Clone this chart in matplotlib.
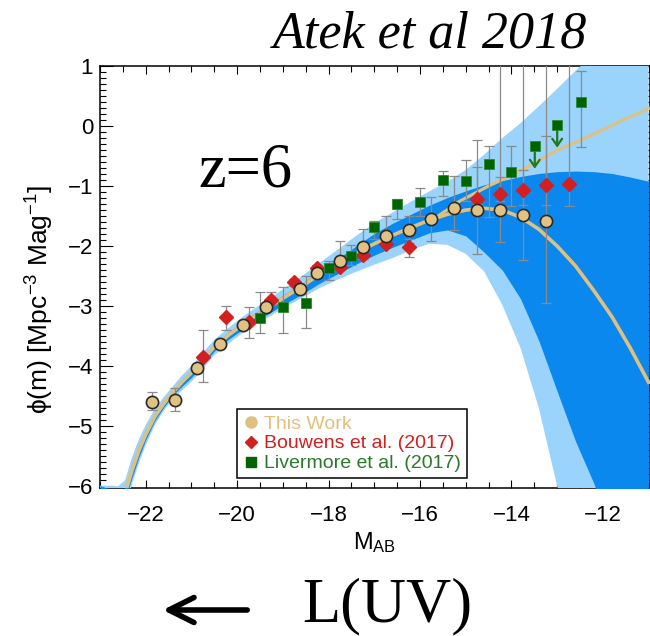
import matplotlib
matplotlib.use('Agg')
import matplotlib.pyplot as plt
from matplotlib.lines import Line2D
from matplotlib.patches import FancyArrowPatch
from matplotlib.ticker import MultipleLocator
import numpy as np

plt.rcParams['font.family'] = ['Liberation Sans', 'DejaVu Sans']
plt.rcParams['mathtext.fontset'] = 'custom'
plt.rcParams['mathtext.rm'] = 'Liberation Sans'
plt.rcParams['mathtext.it'] = 'Liberation Sans:italic'

# best-fit z=6 UV LF (with faint-end turnover) and its 68% / 95% bands
m_fit = [-23.0, -22.6, -22.45, -22.3, -22.15, -22.0, -21.8, -21.6, -21.4, -21.2,
         -21.0, -20.8, -20.5, -20.2, -19.9, -19.6, -19.3, -19.0, -18.6, -18.2,
         -17.8, -17.4, -17.0, -16.6, -16.2, -15.8, -15.4, -15.0, -14.6, -14.2,
         -13.8, -13.4, -13.0, -12.6, -12.2, -11.8, -11.4, -11.0]
phi_fit = [-7.8, -6.5, -6.12, -5.74, -5.41, -5.14, -4.84, -4.62, -4.43, -4.26,
           -4.11, -3.94, -3.68, -3.49, -3.32, -3.16, -3.02, -2.87, -2.68, -2.47,
           -2.29, -2.12, -1.96, -1.82, -1.69, -1.57, -1.47, -1.40, -1.37, -1.40,
           -1.52, -1.72, -2.00, -2.33, -2.74, -3.18, -3.70, -4.27]
dark_lo = [-8.0, -6.8, -6.24, -5.86, -5.52, -5.23, -4.91, -4.68, -4.48, -4.33,
           -4.19, -4.02, -3.75, -3.56, -3.40, -3.25, -3.12, -2.98, -2.81, -2.62,
           -2.46, -2.30, -2.15, -2.02, -1.90, -1.78, -1.73, -1.83, -2.10, -2.40,
           -2.88, -3.58, -4.42, -5.25, -5.95, -6.8, -7.5, -8.0]
dark_hi = [-5.99, -6.1, -6.02, -5.63, -5.31, -5.06, -4.78, -4.57, -4.39, -4.21,
           -4.06, -3.89, -3.63, -3.44, -3.27, -3.11, -2.97, -2.82, -2.63, -2.41,
           -2.21, -2.00, -1.79, -1.62, -1.47, -1.32, -1.19, -1.08, -0.98, -0.91,
           -0.84, -0.79, -0.76, -0.75, -0.76, -0.79, -0.85, -0.92]
light_lo = [-8.0, -7.0, -6.36, -5.97, -5.62, -5.32, -4.98, -4.74, -4.54, -4.40,
            -4.26, -4.09, -3.82, -3.63, -3.46, -3.31, -3.18, -3.04, -2.87, -2.70,
            -2.56, -2.43, -2.31, -2.20, -2.07, -1.96, -1.98, -2.13, -2.42, -2.98,
            -3.70, -4.70, -6.0, -7.5, -9.0, -9.0, -9.0, -9.0]
light_hi = [-5.99, -6.0, -5.90, -5.52, -5.22, -4.98, -4.71, -4.51, -4.33, -4.15,
            -4.00, -3.82, -3.56, -3.37, -3.19, -3.03, -2.88, -2.72, -2.51, -2.28,
            -2.06, -1.83, -1.62, -1.44, -1.26, -1.09, -0.93, -0.73, -0.48, -0.20,
            0.05, 0.33, 0.62, 0.92, 1.2, 1.5, 1.8, 2.1]

# Schechter branch without the turnover
m_sch = [-15.7, -15.13, -14.5, -14.0, -13.5, -13.0, -12.5, -12.0, -11.5, -11.0]
phi_sch = [-1.55, -1.25, -1.0, -0.82, -0.62, -0.40, -0.24, -0.06, 0.12, 0.29]

# This Work
m_atek = [-21.86, -21.36, -20.87, -20.37, -19.87, -19.36, -18.62, -18.25, -17.75,
          -17.24, -16.75, -16.25, -15.75, -15.25, -14.76, -14.24, -13.74, -13.25]
phi_atek = [-4.59, -4.57, -4.03, -3.63, -3.31, -3.02, -2.72, -2.44, -2.25,
            -2.01, -1.84, -1.73, -1.55, -1.37, -1.40, -1.40, -1.48, -1.58]
atek_lo = [-4.73, -4.75, -4.10, -3.68, -3.37, -3.08, -2.80, -2.50, -2.40,
           -2.21, -1.99, -1.95, -1.91, -1.74, -2.13, -1.94, -2.23, -2.95]
atek_hi = [-4.43, -4.37, -3.96, -3.58, -3.25, -2.96, -2.64, -2.38, -1.92,
           -1.72, -1.50, -1.50, -1.19, -0.84, -0.23, 1.5, 1.5, 1.5]

# Bouwens et al. (2017)
m_bou = [-20.75, -20.25, -19.74, -19.25, -18.75, -18.26, -17.75, -17.24, -16.75,
         -16.25, -14.76, -14.24, -13.74, -13.25, -12.74]
phi_bou = [-3.84, -3.18, -3.27, -2.89, -2.60, -2.37, -2.34, -2.15, -1.96,
           -2.02, -1.22, -1.14, -1.06, -0.99, -0.96]
bou_lo = [-4.27, -3.39, -3.53, -2.98, -2.66, -2.43, -2.40, -2.21, -2.02,
          -2.18, -1.30, -1.25, -1.32, -1.32, -1.33]
bou_hi = [-3.39, -2.99, -3.02, -2.77, -2.54, -2.31, -2.28, -2.09, -1.90,
          -1.88, -0.68, -0.85, -0.73, -0.17, 1.5]

# Livermore et al. (2017)
m_liv = [-19.51, -18.99, -18.50, -17.99, -17.50, -17.00, -16.50, -16.00,
         -15.49, -14.99, -14.49, -14.00, -12.49]
phi_liv = [-3.19, -3.01, -2.95, -2.36, -2.17, -1.68, -1.30, -1.27,
           -0.90, -0.92, -0.63, -0.76, 0.40]
liv_lo = [-3.45, -3.45, -3.37, -2.57, -2.32, -1.88, -1.55, -1.50,
          -1.17, -1.25, -1.52, -1.33, -0.35]
liv_hi = [-2.76, -2.68, -2.49, -2.24, -1.99, -1.58, -1.21, -1.03,
          -0.75, -0.56, -0.33, -0.33, 0.92]
m_liv_ul = [-13.49, -13.00]
phi_liv_ul = [-0.33, 0.02]

tan = '#e0c07e'
red = '#d21f1f'
green = '#006400'
gray = '#8a8a8a'

fig = plt.figure(figsize=(6.5, 6.36), dpi=100)
ax = fig.add_axes([0.1538, 0.2327, 0.8462, 0.6635])

ax.fill_between(m_fit, light_lo, light_hi, color='#9ad3fb', lw=0, zorder=2.6)
ax.fill_between(m_fit, dark_lo, dark_hi, color='#0a88ee', lw=0, zorder=2.7)
ax.plot(m_sch, phi_sch, color=tan, lw=2.2, zorder=3)
ax.plot(m_fit, phi_fit, color=tan, lw=2.6, zorder=3)


def err(phi, lo, hi):
    phi = np.array(phi)
    return [phi - np.array(lo), np.array(hi) - phi]


ebar = dict(fmt='none', ecolor=gray, elinewidth=0.9, capsize=3.5, capthick=0.9, zorder=4)
ax.errorbar(m_bou, phi_bou, yerr=err(phi_bou, bou_lo, bou_hi), **ebar)
ax.errorbar(m_liv, phi_liv, yerr=err(phi_liv, liv_lo, liv_hi), **ebar)
ax.errorbar(m_atek, phi_atek, yerr=err(phi_atek, atek_lo, atek_hi), **ebar)

# upper limits
for m, p in zip(m_liv_ul, phi_liv_ul):
    ax.annotate('', xy=(m, p - 0.38), xytext=(m, p),
                arrowprops=dict(arrowstyle='->,head_length=0.5,head_width=0.35',
                                color='#1f7a1f', lw=1.6, shrinkA=0, shrinkB=0),
                zorder=5)

ax.plot(m_bou, phi_bou, 'D', ms=6.8, color=red, mec=red, zorder=5)
ax.plot(m_liv + m_liv_ul, phi_liv + phi_liv_ul, 's', ms=7.2, color=green,
        mec='#2d8a2d', mew=0.6, zorder=5)
ax.plot(m_atek, phi_atek, 'o', ms=8.8, mfc='#e2c283', mec='#2a2a2a', mew=1.2, zorder=6)

ax.set_xlim(-23.0, -10.97)
ax.set_ylim(-6.03, 1.0)
ax.xaxis.set_major_locator(MultipleLocator(2))
ax.xaxis.set_minor_locator(MultipleLocator(0.5))
ax.yaxis.set_major_locator(MultipleLocator(1))
ax.yaxis.set_minor_locator(MultipleLocator(0.1))
ax.tick_params(which='both', direction='in', top=True, right=True, width=0.8,
               labelsize=16)
ax.tick_params(axis='x', which='major', length=6, pad=12)
ax.tick_params(axis='x', which='minor', length=4)
ax.tick_params(axis='y', which='major', length=9, pad=5)
ax.tick_params(axis='y', which='minor', length=4.5)
for s in ax.spines.values():
    s.set_linewidth(1.1)

handles = [Line2D([], [], ls='none', marker='o', ms=8, color=tan, mec=tan),
           Line2D([], [], ls='none', marker='D', ms=6, color=red, mec=red),
           Line2D([], [], ls='none', marker='s', ms=7, color=green, mec=green)]
labels = ['This Work', 'Bouwens et al. (2017)', 'Livermore et al. (2017)']
leg = ax.legend(handles, labels, loc='upper left', bbox_to_anchor=(0.249, 0.187),
                borderaxespad=0, fontsize=14, labelspacing=0.12, handlelength=0.8,
                handletextpad=0.3, borderpad=0.3, fancybox=False, framealpha=1,
                labelcolor=[tan, red, '#2a7a2a'])
leg.get_frame().set_edgecolor('black')
leg.get_frame().set_linewidth(1.1)
leg.set_zorder(7)

fig.text(40 / 650, 1 - 300 / 636, r'ϕ(m) [Mpc$^{-3}$ Mag$^{-1}$]', rotation=90,
         ha='center', va='center', fontsize=19)
fig.text(375 / 650, 1 - 543 / 636, r'M$_{\mathrm{AB}}$', ha='center', va='center',
         fontsize=17)

serif = ['Liberation Serif', 'DejaVu Serif']
fig.text(430 / 650, 1 - 35 / 636, 'Atek et al 2018', family=serif, style='italic',
         ha='center', va='center', fontsize=37.5)
fig.text(245 / 650, 1 - 172 / 636, 'z=6', family=serif, ha='center', va='center',
         fontsize=45)
fig.text(302 / 650, 1 - 621 / 636, 'L(UV)', family=serif, ha='left', va='baseline',
         fontsize=45)
fig.add_artist(FancyArrowPatch(
    (250 / 650, 1 - 610 / 636), (160 / 650, 1 - 610 / 636),
    transform=fig.transFigure, arrowstyle='->,head_length=0.9,head_width=0.45',
    mutation_scale=20, lw=4, color='black'))

fig.savefig('out.png', dpi=100)
